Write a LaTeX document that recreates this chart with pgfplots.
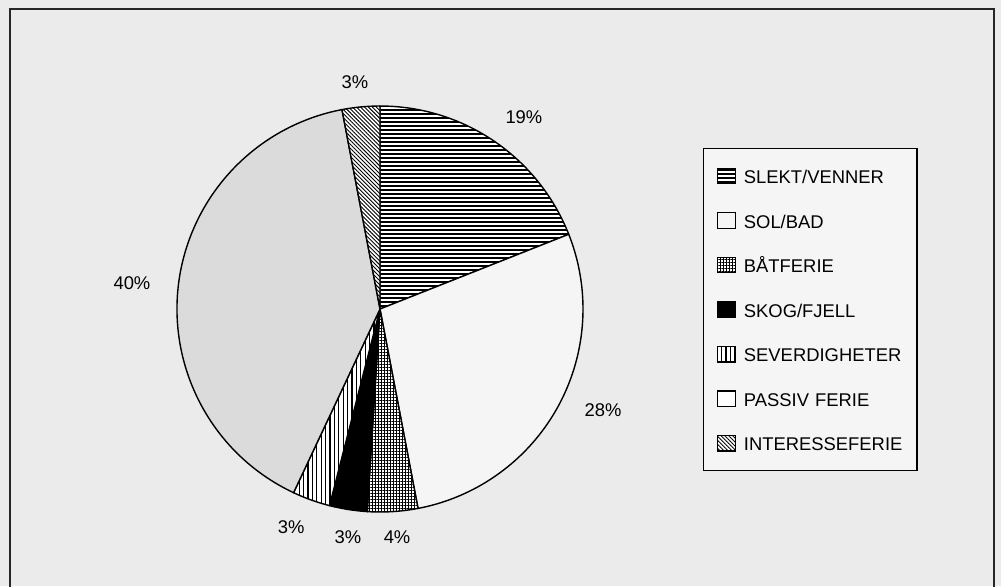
\documentclass[border=0pt]{standalone}
\usepackage{pgfplots}
\pgfplotsset{compat=1.18}
\usepackage{pgfplotstable}
\usepackage{fontspec}
\setmainfont{Liberation Sans}
\usetikzlibrary{patterns.meta}

\definecolor{paper}{HTML}{EBEBEB}
\definecolor{solbad}{HTML}{F5F5F5}
\definecolor{passiv}{HTML}{DBDBDB}
\definecolor{legendbg}{HTML}{F5F5F5}

% slice fills, clockwise from twelve o'clock
\tikzset{
  slice0/.style={preaction={fill=white}, pattern={Lines[angle=0,distance=2pt,line width=0.55pt]}},
  slice1/.style={fill=solbad},
  slice2/.style={preaction={fill=white}, pattern={Hatch[angle=0,distance=1.5pt,line width=0.45pt]}},
  slice3/.style={fill=black},
  slice4/.style={preaction={fill=white}, pattern={Lines[angle=90,distance=2.2pt,line width=0.55pt]}},
  slice5/.style={fill=passiv},
  slice6/.style={preaction={fill=white}, pattern={Lines[angle=-45,distance=1.4pt,line width=0.45pt]}},
}

% share in percent, and where its label sits (radius 1 = pie radius)
\pgfplotstableread[col sep=comma]{
value,lx,ly
19,0.709,0.946
28,1.099,-0.498
4,0.084,-1.123
3,-0.158,-1.123
3,-0.438,-1.074
40,-1.222,0.128
3,-0.123,1.118
}\pietable

\def\R{101.5pt}
\newcommand\labelfont{\fontsize{9.2pt}{10.5pt}\selectfont}

\begin{document}
\begin{tikzpicture}
\path[use as bounding box, fill=paper] (0,0) rectangle (500.5pt,-293pt);
\clip (0,0) rectangle (500.5pt,-293pt);
\draw[line width=1pt, black!85] (5pt,-310pt) -- (5pt,-4.5pt) -- (497pt,-4.5pt) -- (497pt,-310pt);

\begin{axis}[
  at={(190pt,-154.5pt)}, anchor=center,
  x=\R, y=\R,
  xmin=-1, xmax=1, ymin=-1, ymax=1,
  hide axis, clip=false,
  legend image code/.code={\filldraw[#1, draw=black, line width=0.6pt] (0pt,-3.3pt) rectangle (9pt,4.4pt);},
  legend cell align=left,
  legend style={
    at={(1.2956,0.8966)}, anchor=north west,
    draw=black, line width=0.7pt, fill=legendbg,
    inner xsep=6.5pt, inner ysep=9.5pt,
    row sep=13.97pt,
    font=\labelfont,
    nodes={inner sep=0pt, text height=6.6pt, text depth=0pt, text width=80pt, align=left},
    /tikz/every odd column/.append style={column sep=4pt},
  },
]
\addlegendimage{slice0}\addlegendentry{SLEKT/VENNER}
\addlegendimage{slice1}\addlegendentry{SOL/BAD}
\addlegendimage{slice2}\addlegendentry{BÅTFERIE}
\addlegendimage{slice3}\addlegendentry{SKOG/FJELL}
\addlegendimage{slice4}\addlegendentry{SEVERDIGHETER}
\addlegendimage{fill=white}\addlegendentry{PASSIV FERIE}
\addlegendimage{slice6}\addlegendentry{INTERESSEFERIE}

\pgfplotsextra{%
  \pgfplotstablegetrowsof{\pietable}%
  \pgfmathtruncatemacro{\last}{\pgfplotsretval-1}%
  \gdef\startangle{90}%
  \foreach \i in {0,...,\last}{%
    \pgfplotstablegetelem{\i}{value}\of\pietable \let\val\pgfplotsretval
    \pgfplotstablegetelem{\i}{lx}\of\pietable \let\lx\pgfplotsretval
    \pgfplotstablegetelem{\i}{ly}\of\pietable \let\ly\pgfplotsretval
    \pgfmathsetmacro{\endangle}{\startangle-3.6*\val}%
    \filldraw[slice\i, draw=black, line width=0.7pt, line join=round]
      (axis cs:0,0) -- ++(\startangle:\R)
      arc[start angle=\startangle, end angle=\endangle, radius=\R] -- cycle;
    \node[font=\labelfont] at (axis cs:\lx,\ly) {\val\%};
    \xdef\startangle{\endangle}%
  }%
}
\end{axis}
\end{tikzpicture}
\end{document}
